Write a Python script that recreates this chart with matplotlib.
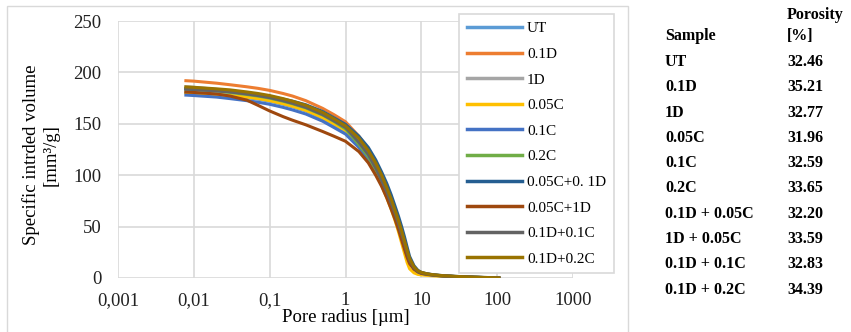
import matplotlib
matplotlib.use("Agg")
import matplotlib.pyplot as plt
from matplotlib.patches import Rectangle
from matplotlib.lines import Line2D

# ---- data ----
radius = [0.0075, 0.01, 0.02, 0.03, 0.05, 0.07, 0.1, 0.15, 0.2, 0.3, 0.5, 0.7, 1,
          1.5, 2, 2.5, 3, 3.5, 4, 4.5, 5, 5.5, 6, 6.5, 7, 8, 9, 10, 12, 15, 20,
          30, 50, 80, 110]

ut       = [181, 180.5, 179, 177.5, 175.5, 174, 172, 169, 166.5, 162.5, 155, 149, 142,
            128, 116, 104, 92, 81, 70, 60, 50, 40, 31, 22, 15, 9, 6, 4.5, 3.5, 2.6, 1.9,
            1.2, 0.6, 0.3, 0]
d01      = [192, 191.5, 189.5, 188, 186, 184.5, 182.5, 179.5, 177, 172.5, 165, 159, 152,
            138, 125, 111, 98, 86, 74, 63, 53, 43, 33, 24, 17, 10, 6.5, 5, 3.8, 2.8, 2,
            1.3, 0.7, 0.3, 0]
d1       = [186, 185.5, 183.5, 182, 180, 178, 176, 173, 170.5, 166.5, 159.5, 153.5, 146,
            131, 119, 106, 94, 83, 72, 62, 52, 42, 33, 24, 17, 10, 6.5, 5, 3.8, 2.8, 2,
            1.3, 0.7, 0.3, 0]
c005     = [180, 179.5, 178.5, 177.5, 176, 174.5, 172.5, 169.5, 167, 163, 156, 150, 143.5,
            129, 116, 103, 90, 78, 67, 56, 45, 34, 24, 15, 9, 5, 3.5, 3, 2.5, 2, 1.5,
            1, 0.5, 0.2, 0]
c01      = [178, 177.5, 176, 174.5, 172.5, 171, 169, 166, 163.5, 159.5, 152.5, 146.5, 140,
            127, 115, 103, 91, 80, 69, 59, 49, 39, 30, 22, 15, 9, 6, 4.5, 3.5, 2.6, 1.9,
            1.2, 0.6, 0.3, 0]
c02      = [184, 183.5, 182, 180.5, 178.5, 177, 175, 172, 169.5, 165.5, 158.5, 152.5, 145,
            130, 118, 105, 93, 82, 71, 61, 51, 41, 32, 23, 16, 9.5, 6.5, 5, 3.8, 2.8, 2,
            1.3, 0.7, 0.3, 0]
c005_d01 = [184, 183.5, 182.5, 181.5, 180, 178.5, 176.5, 174, 172, 168.5, 162, 156, 149.5,
            138, 127, 115, 103, 92, 81, 70, 60, 50, 40, 30, 21, 12, 7.5, 5.5, 4, 3, 2.2,
            1.5, 0.8, 0.4, 0]
c005_d1  = [181, 180.5, 179, 177, 173, 168, 162.5, 157, 153.5, 149, 142.5, 138, 133,
            123, 112, 100, 89, 78, 67, 57, 47, 37, 28, 20, 14, 8.5, 6, 4.5, 3.5, 2.6, 1.9,
            1.2, 0.6, 0.3, 0]
d01_c01  = [184, 183.5, 182, 181, 179, 177.5, 175.5, 172.5, 170, 166, 159, 153, 146.5,
            132, 120, 107, 95, 84, 73, 63, 53, 43, 34, 25, 17.5, 10, 6.5, 5, 3.8, 2.8, 2,
            1.3, 0.7, 0.3, 0]
d01_c02  = [186, 185.5, 184, 183, 181, 179.5, 177.5, 174.5, 172, 168, 161, 155, 148,
            136, 124, 112, 100, 88, 77, 66, 56, 46, 36, 27, 19, 11, 7, 5.5, 4, 3, 2.2,
            1.5, 0.8, 0.4, 0]

series_labels = ["UT", "0.1D", "1D", "0.05C", "0.1C", "0.2C",
                 "0.05C+0. 1D", "0.05C+1D", "0.1D+0.1C", "0.1D+0.2C"]
series_values = [ut, d01, d1, c005, c01, c02, c005_d01, c005_d1, d01_c01, d01_c02]
series_colors = ["#5B9BD5", "#ED7D31", "#A5A5A5", "#FFC000", "#4472C4",
                 "#70AD47", "#255E91", "#9E480E", "#636363", "#997300"]

x_ticks = [0.001, 0.01, 0.1, 1, 10, 100, 1000]
x_tick_labels = ["0,001", "0,01", "0,1", "1", "10", "100", "1000"]
y_ticks = [0, 50, 100, 150, 200, 250]

table_samples = ["UT", "0.1D", "1D", "0.05C", "0.1C", "0.2C",
                 "0.1D + 0.05C", "1D + 0.05C", "0.1D + 0.1C", "0.1D + 0.2C"]
table_porosity = ["32.46", "35.21", "32.77", "31.96", "32.59", "33.65",
                  "32.20", "33.59", "32.83", "34.39"]

# ---- figure ----
W, H = 851, 332
fig = plt.figure(figsize=(W / 100, H / 100), dpi=100)
serif = "Liberation Serif"
plt.rcParams["font.family"] = serif

def fx(px):
    return px / W

def fy(py):
    return 1 - py / H

# outer chart border
fig.patches.append(Rectangle((fx(7), fy(334)), fx(628) - fx(7), fy(6) - fy(334),
                             transform=fig.transFigure, fill=False,
                             edgecolor="#D9D9D9", linewidth=1.0))

ax = fig.add_axes([fx(118), fy(278), fx(573) - fx(118), fy(21) - fy(278)])
ax.set_xscale("log")
ax.set_xlim(0.001, 1000)
ax.set_ylim(0, 250)

for vals, col in zip(series_values, series_colors):
    ax.plot(radius, vals, color=col, linewidth=2.2, solid_capstyle="butt", zorder=3)

ax.set_xticks(x_ticks)
ax.set_xticklabels(x_tick_labels)
ax.xaxis.set_minor_locator(matplotlib.ticker.NullLocator())
ax.set_yticks(y_ticks)
ax.grid(True, color="#D9D9D9", linewidth=1.2, zorder=0)
ax.set_axisbelow(True)
for s in ax.spines.values():
    s.set_visible(False)
ax.tick_params(axis="both", length=0, labelsize=13.5, colors="#222222")
ax.tick_params(axis="x", pad=10)
ax.tick_params(axis="y", pad=12)

ax.set_xlabel("Pore radius [µm]", fontsize=13.5, labelpad=0)
fig.text(fx(41), fy(155), "Specific intrded volume\n[mm³/g]", rotation=90,
         ha="center", va="center", fontsize=13.5, linespacing=1.25, family=serif)

handles = [Line2D([], [], color=c, linewidth=2.5) for c in series_colors]
leg = ax.legend(handles, series_labels, loc="upper left",
                bbox_to_anchor=(fx(459), fy(14)), bbox_transform=fig.transFigure,
                frameon=True, fancybox=False, edgecolor="#D9D9D9",
                framealpha=1, fontsize=11, handlelength=3.6, handletextpad=0.35,
                labelspacing=0.78, borderpad=0.5, borderaxespad=0)
leg.get_frame().set_linewidth(1.2)
leg.set_zorder(5)

# ---- table ----
tfs = 11.5
fig.text(fx(665), fy(36), "Sample", ha="left", va="center", fontsize=tfs,
         fontweight="bold", family=serif)
fig.text(fx(787), fy(15), "Porosity", ha="left", va="center", fontsize=tfs,
         fontweight="bold", family=serif)
fig.text(fx(787), fy(36), "[%]", ha="left", va="center", fontsize=tfs,
         fontweight="bold", family=serif)
for i, (s, p) in enumerate(zip(table_samples, table_porosity)):
    yy = 62 + i * 25.3
    fig.text(fx(665), fy(yy), s, ha="left", va="center", fontsize=tfs,
             fontweight="bold", family=serif)
    fig.text(fx(787), fy(yy), p, ha="left", va="center", fontsize=tfs,
             fontweight="bold", family=serif)

fig.savefig("out.png", dpi=100)
